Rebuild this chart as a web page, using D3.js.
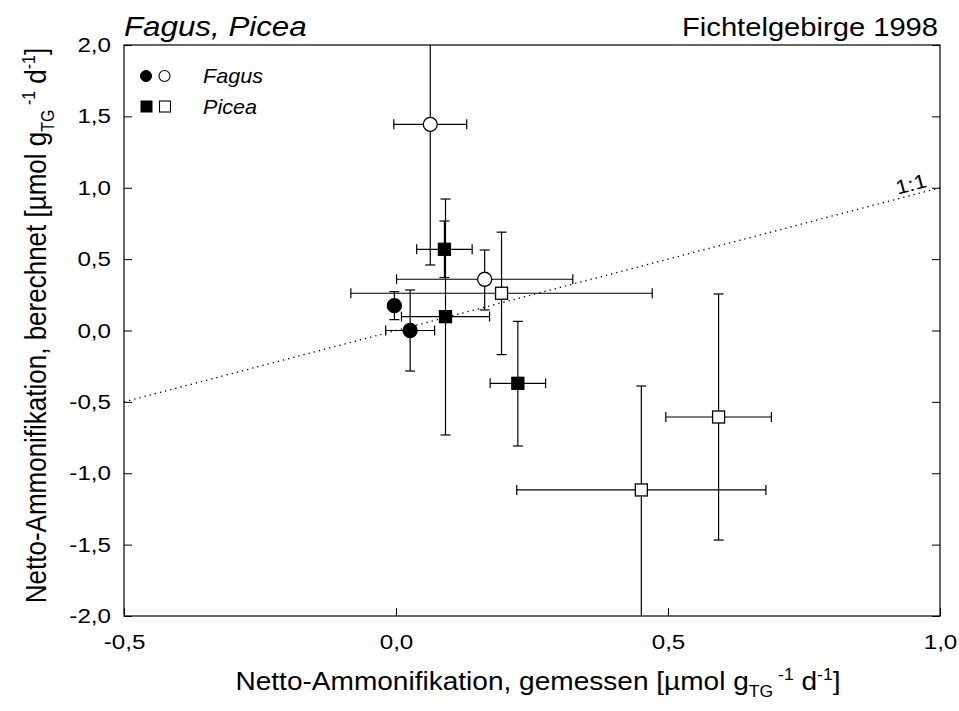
<!DOCTYPE html>
<html>
<head>
<meta charset="utf-8">
<script src="https://cdn.jsdelivr.net/npm/d3@7"></script>
<style>
  html, body { margin: 0; padding: 0; background: #fff; }
  svg text { font-family: "Liberation Sans", Arial, sans-serif; fill: #000; }
</style>
</head>
<body>
<svg id="chart" width="959" height="711"></svg>
<script>
// ---------- data ----------
const species    = ["Fagus","Fagus","Fagus","Fagus","Picea","Picea","Picea","Picea","Picea","Picea"];
const filled     = [true, true, false, false, true, true, true, false, false, false];
const measured   = [-0.003, 0.026, 0.063, 0.163, 0.089, 0.091, 0.224, 0.194, 0.451, 0.593];
const measuredErr= [0.000, 0.045, 0.067, 0.162, 0.051, 0.081, 0.051, 0.277, 0.229, 0.097];
const calculated = [0.174, 0.000, 1.444, 0.359, 0.569, 0.097, -0.370, 0.261, -1.117, -0.606];
const calcErrHi  = [0.098, 0.284, 0.985, 0.205, 0.198, 0.824, 0.434, 0.428, 0.728, 0.862];
const calcErrLo  = [0.098, 0.284, 0.985, 0.215, 0.198, 0.829, 0.439, 0.430, 1.000, 0.862];
const xTicks = [-0.5, 0.0, 0.5, 1.0];
const yTicks = [-2.0, -1.5, -1.0, -0.5, 0.0, 0.5, 1.0, 1.5, 2.0];
const identityLine = [-0.5, 1.0];
const legendItems = ["Fagus", "Picea"];
const titleLeft = "Fagus, Picea";
const titleRight = "Fichtelgebirge 1998";

// ---------- layout ----------
const L = 124, R = 940, T = 45, B = 616;
const SX = 1.18; // horizontal text stretch
const svg = d3.select("#chart");
const x = d3.scaleLinear().domain([-0.5, 1.0]).range([L, R]);
const y = d3.scaleLinear().domain([-2.0, 2.0]).range([B, T]);
const loc = d3.formatLocale({decimal: ",", thousands: ".", grouping: [3], currency: ["", ""], minus: "-"});
const fmt = loc.format(".1f");

svg.append("defs").append("clipPath").attr("id", "plotclip")
  .append("rect").attr("x", L).attr("y", T).attr("width", R - L).attr("height", B - T);

// axes
const gx = svg.append("g").attr("transform", `translate(0,${B})`)
  .call(d3.axisBottom(x).tickValues(xTicks).tickSizeInner(-8).tickSizeOuter(0).tickPadding(18).tickFormat(fmt));
const gy = svg.append("g").attr("transform", `translate(${L},0)`)
  .call(d3.axisLeft(y).tickValues(yTicks).tickSizeInner(-8).tickSizeOuter(0).tickPadding(13).tickFormat(fmt));
const gr = svg.append("g").attr("transform", `translate(${R},0)`)
  .call(d3.axisRight(y).tickValues(yTicks).tickSizeInner(-8).tickSizeOuter(0).tickFormat(""));
[gx, gy, gr].forEach(g => {
  g.select(".domain").remove();
  g.selectAll("line").attr("stroke", "#000").attr("stroke-width", 1);
  g.selectAll("text").attr("font-size", 20.5).attr("font-family", "Liberation Sans, Arial, sans-serif").attr("fill", "#000");
});
gx.selectAll("text").attr("transform", `scale(${SX},1)`);
gy.selectAll("text").each(function() {
  const t = d3.select(this); const xx = +t.attr("x");
  t.attr("x", xx / SX).attr("transform", `scale(${SX},1)`);
});

// frame
svg.append("rect").attr("x", L).attr("y", T).attr("width", R - L).attr("height", B - T)
  .attr("fill", "none").attr("stroke", "#000").attr("stroke-width", 1.2);

// 1:1 line
svg.append("line")
  .attr("x1", x(identityLine[0])).attr("y1", y(identityLine[0]))
  .attr("x2", x(identityLine[1])).attr("y2", y(identityLine[1]))
  .attr("stroke", "#000").attr("stroke-width", 1.3).attr("stroke-dasharray", "1.3,4");
const ang = Math.atan2(y(1) - y(-0.5), x(1) - x(-0.5)) * 180 / Math.PI;
svg.append("text").attr("transform", `translate(${x(0.95)},${y(0.95) - 4}) rotate(${ang}) scale(1.12,1)`)
  .attr("text-anchor", "middle").attr("font-size", 20).text("1:1");

// error bars
const idx = d3.range(measured.length);
const eb = svg.append("g").attr("clip-path", "url(#plotclip)").attr("stroke", "#000").attr("stroke-width", 1.2);
const cap = 5;
idx.forEach(i => {
  const cx = x(measured[i]), cy = y(calculated[i]);
  const yt = y(calculated[i] + calcErrHi[i]), yb = y(calculated[i] - calcErrLo[i]);
  eb.append("line").attr("x1", cx).attr("x2", cx).attr("y1", yt).attr("y2", yb);
  eb.append("line").attr("x1", cx - cap).attr("x2", cx + cap).attr("y1", yt).attr("y2", yt);
  eb.append("line").attr("x1", cx - cap).attr("x2", cx + cap).attr("y1", yb).attr("y2", yb);
  if (measuredErr[i] > 0) {
    const xl = x(measured[i] - measuredErr[i]), xr = x(measured[i] + measuredErr[i]);
    eb.append("line").attr("x1", xl).attr("x2", xr).attr("y1", cy).attr("y2", cy);
    eb.append("line").attr("x1", xl).attr("x2", xl).attr("y1", cy - cap).attr("y2", cy + cap);
    eb.append("line").attr("x1", xr).attr("x2", xr).attr("y1", cy - cap).attr("y2", cy + cap);
  }
});

// markers
const mk = svg.append("g");
idx.forEach(i => {
  const cx = x(measured[i]), cy = y(calculated[i]);
  const fill = filled[i] ? "#000" : "#fff";
  if (species[i] === "Fagus") {
    mk.append("circle").attr("cx", cx).attr("cy", cy).attr("r", 7)
      .attr("fill", fill).attr("stroke", "#000").attr("stroke-width", 1.3);
  } else {
    mk.append("rect").attr("x", cx - 6).attr("y", cy - 6).attr("width", 12).attr("height", 12)
      .attr("fill", fill).attr("stroke", "#000").attr("stroke-width", 1.3);
  }
});

// legend
const lg = svg.append("g");
legendItems.forEach((name, k) => {
  const ly = 76 + k * 30.5;
  if (name === "Fagus") {
    lg.append("circle").attr("cx", 146).attr("cy", ly).attr("r", 5.5).attr("fill", "#000").attr("stroke", "#000");
    lg.append("circle").attr("cx", 164.5).attr("cy", ly).attr("r", 5.5).attr("fill", "#fff").attr("stroke", "#000").attr("stroke-width", 1.1);
  } else {
    lg.append("rect").attr("x", 141).attr("y", ly - 5.5).attr("width", 11).attr("height", 11).attr("fill", "#000").attr("stroke", "#000");
    lg.append("rect").attr("x", 159.5).attr("y", ly - 5.5).attr("width", 11).attr("height", 11).attr("fill", "#fff").attr("stroke", "#000").attr("stroke-width", 1.1);
  }
  lg.append("text").attr("transform", `translate(203,${ly + 7}) scale(1.08,1)`)
    .attr("font-size", 20).attr("font-style", "italic").text(name);
});

// titles
svg.append("text").attr("transform", `translate(124,36) scale(1.16,1)`)
  .attr("font-size", 27).attr("font-style", "italic").text(titleLeft);
svg.append("text").attr("transform", `translate(938,36) scale(1.1,1)`)
  .attr("font-size", 26.5).attr("text-anchor", "end").text(titleRight);

// axis titles
function unitLabel(t, main) {
  t.append("tspan").text(main + " [µmol g");
  t.append("tspan").attr("font-size", 16).attr("dy", 7).text("TG");
  t.append("tspan").attr("font-size", 16).attr("dy", -17).text(" -1");
  t.append("tspan").attr("dy", 10).text(" d");
  t.append("tspan").attr("font-size", 16).attr("dy", -10).text("-1");
  t.append("tspan").attr("dy", 10).text("]");
}
const xl = svg.append("text").attr("transform", `translate(538,690) scale(1.1,1)`)
  .attr("text-anchor", "middle").attr("font-size", 25.5);
unitLabel(xl, "Netto-Ammonifikation, gemessen");
const yl = svg.append("text").attr("transform", `translate(46,${(T + B) / 2 - 5}) scale(1.12,1) rotate(-90)`)
  .attr("text-anchor", "middle").attr("font-size", 26);
unitLabel(yl, "Netto-Ammonifikation, berechnet");
</script>
</body>
</html>
